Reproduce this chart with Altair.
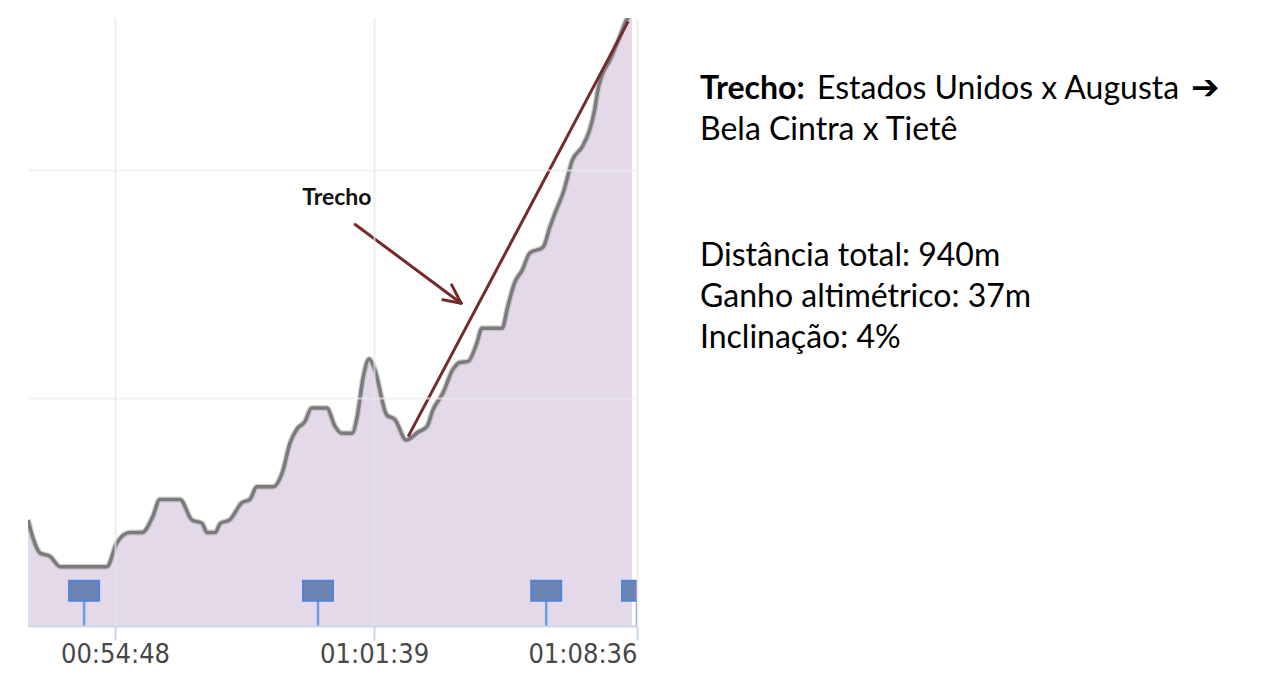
import altair as alt
import pandas as pd

# elevation profile (time in seconds since start of ride, elevation in m)
time_s = [3150, 3158, 3169, 3185, 3201, 3275, 3291, 3312, 3331, 3348,
          3359, 3391, 3410, 3426, 3434, 3447, 3455, 3470, 3489, 3502,
          3513, 3539, 3553, 3566, 3577, 3589, 3600, 3624, 3637, 3648,
          3664, 3672, 3681, 3691, 3700, 3719, 3732, 3750, 3769, 3783,
          3792, 3808, 3824, 3835, 3848, 3862, 3870, 3902, 3911, 3922,
          3934, 3946, 3967, 3978, 3986, 3999, 4014, 4029, 4041, 4049,
          4054, 4060, 4073, 4089, 4100, 4108]
elev_m = [749.3, 747.7, 746.4, 746.1, 745.2, 745.2, 747.3, 748.2, 748.2, 749.6,
          751.1, 751.1, 749.3, 749.0, 748.2, 748.2, 749.0, 749.3, 750.8, 751.1,
          752.2, 752.2, 753.4, 756.1, 757.3, 757.9, 759.1, 759.1, 757.5, 756.9,
          756.9, 758.3, 761.6, 763.4, 762.5, 758.5, 758.1, 756.3, 757.0, 757.5,
          758.9, 760.4, 762.5, 763.1, 763.2, 764.8, 766.1, 766.1, 768.0, 770.1,
          771.2, 772.7, 773.2, 775.0, 776.2, 778.0, 780.9, 782.0, 783.5, 785.3,
          787.0, 788.2, 789.6, 791.7, 793.2, 793.7]

# lap / km markers
marker_s = [3239, 3610, 3972, 4116]

# x tick values (00:54:48, 01:01:39, 01:08:36)
tick_s = [3288, 3699, 4116]
x_domain = [3150, 4116]
y_domain = [740, 793.3]
grid_elev = [760, 780]

# highlighted segment ("Trecho")
seg_start = (3753, 756.6)
seg_end = (4102, 793.0)

title_bold = "Trecho:"
title_rest = "Estados Unidos x Augusta"
title_arrow = "\u2794"
title_line2 = "Bela Cintra x Tietê"
info_lines = ["Distância total: 940m", "Ganho altimétrico: 37m", "Inclinação: 4%"]
annot_label = "Trecho"

df = pd.DataFrame({"t": time_s, "e": elev_m})
dfm = pd.DataFrame({"t": marker_s})

xs = alt.Scale(domain=x_domain, nice=False, zero=False)
ys = alt.Scale(domain=y_domain, nice=False, zero=False)

X = alt.X("t:Q", scale=xs, axis=alt.Axis(
    values=tick_s, title=None, grid=True, gridColor="#e6e6e6", gridWidth=2,
    gridOpacity=0.7, domain=True, domainColor="#c8d7ea", domainWidth=2,
    ticks=True, tickColor="#c8d7ea", tickWidth=2, tickSize=14,
    labelExpr="utcFormat(datum.value*1000, '%H:%M:%S')",
    labelFont="DejaVu Sans Condensed", labelFontSize=27, labelColor="#484848",
    labelPadding=1, labelFlush=True, zindex=1))
Y = alt.Y("e:Q", scale=ys, axis=alt.Axis(
    values=grid_elev, title=None, grid=True, gridColor="#ececec", gridWidth=2,
    gridOpacity=0.7, labels=False, ticks=False, domain=False, zindex=1))

area = alt.Chart(df).mark_area(color="#e3d9e9", interpolate="monotone", clip=True).encode(
    x=X, y=Y, y2=alt.datum(740))
shadow = alt.Chart(df).mark_line(color="#b4b4b4", strokeWidth=6, opacity=0.6,
                                 interpolate="monotone", clip=True).encode(
    x=alt.X("t:Q", scale=xs), y=alt.Y("e:Q", scale=ys))
line = alt.Chart(df).mark_line(color="#7b7b7b", strokeWidth=3.5,
                               interpolate="monotone", clip=True).encode(
    x=alt.X("t:Q", scale=xs), y=alt.Y("e:Q", scale=ys))

stems = alt.Chart(dfm).mark_rule(color="#6e9ee0", strokeWidth=2.5, clip=True).encode(
    x=alt.X("t:Q", scale=xs), y=alt.datum(740), y2=alt.datum(742.2))
boxes = alt.Chart(dfm).mark_point(
    shape="M-1,-0.667L1,-0.667L1,0.667L-1,0.667Z", size=900, filled=True,
    fill="#6b84b4", stroke="#5183d8", strokeWidth=2, opacity=1, clip=True).encode(
    x=alt.X("t:Q", scale=xs), y=alt.datum(743.1))

seg_df = pd.DataFrame({"t": [seg_start[0]], "e": [seg_start[1]],
                       "t2": [seg_end[0]], "e2": [seg_end[1]]})
seg = alt.Chart(seg_df).mark_rule(color="#762b2b", strokeWidth=3).encode(
    x=alt.X("t:Q", scale=xs), y=alt.Y("e:Q", scale=ys), x2="t2:Q", y2="e2:Q")

arrow_df = pd.DataFrame({
    "t": [3669, 3837, 3837], "e": [775.2, 768.3, 768.3],
    "t2": [3837, 3808, 3822], "e2": [768.3, 768.6, 769.9]})
arrow = alt.Chart(arrow_df).mark_rule(color="#762b2b", strokeWidth=3, strokeCap="round").encode(
    x=alt.X("t:Q", scale=xs), y=alt.Y("e:Q", scale=ys), x2="t2:Q", y2="e2:Q")

lab_df = pd.DataFrame({"t": [3640], "e": [777.5], "txt": [annot_label]})
lab = alt.Chart(lab_df).mark_text(font="Lato", fontWeight="bold", fontSize=23,
                                  color="#111111").encode(
    x=alt.X("t:Q", scale=xs), y=alt.Y("e:Q", scale=ys), text="txt:N")

one = pd.DataFrame({"k": [0]})
FS = 32
t1 = alt.Chart(one).mark_text(font="Lato", fontWeight="bold", fontSize=FS, align="left",
                              baseline="middle", color="#000000").encode(
    x=alt.value(672), y=alt.value(71), text=alt.value(title_bold))
t2 = alt.Chart(one).mark_text(font="Lato", fontSize=FS, align="left",
                              baseline="middle", color="#000000").encode(
    x=alt.value(789), y=alt.value(71), text=alt.value(title_rest))
t2b = alt.Chart(one).mark_text(font="DejaVu Sans", fontWeight="bold", fontSize=34, align="left",
                               baseline="middle", color="#000000").encode(
    x=alt.value(1163), y=alt.value(71), text=alt.value(title_arrow))
t3 = alt.Chart(one).mark_text(font="Lato", fontSize=FS, align="left",
                              baseline="middle", color="#000000").encode(
    x=alt.value(672), y=alt.value(112), text=alt.value(title_line2))
t4 = alt.Chart(one).mark_text(font="Lato", fontSize=FS, align="left",
                              baseline="middle", lineHeight=41, color="#000000").encode(
    x=alt.value(672), y=alt.value(238), text=alt.value(info_lines))

chart = alt.layer(area, shadow, line, stems, boxes, seg, arrow, lab, t1, t2, t2b, t3, t4).properties(
    width=609, height=608,
    autosize=alt.AutoSizeParams(type="none"),
    padding={"left": 20, "top": 10, "right": 610, "bottom": 60},
).configure_view(stroke=None)

chart.save("out.html", embed_options={"renderer": "svg", "actions": False})
